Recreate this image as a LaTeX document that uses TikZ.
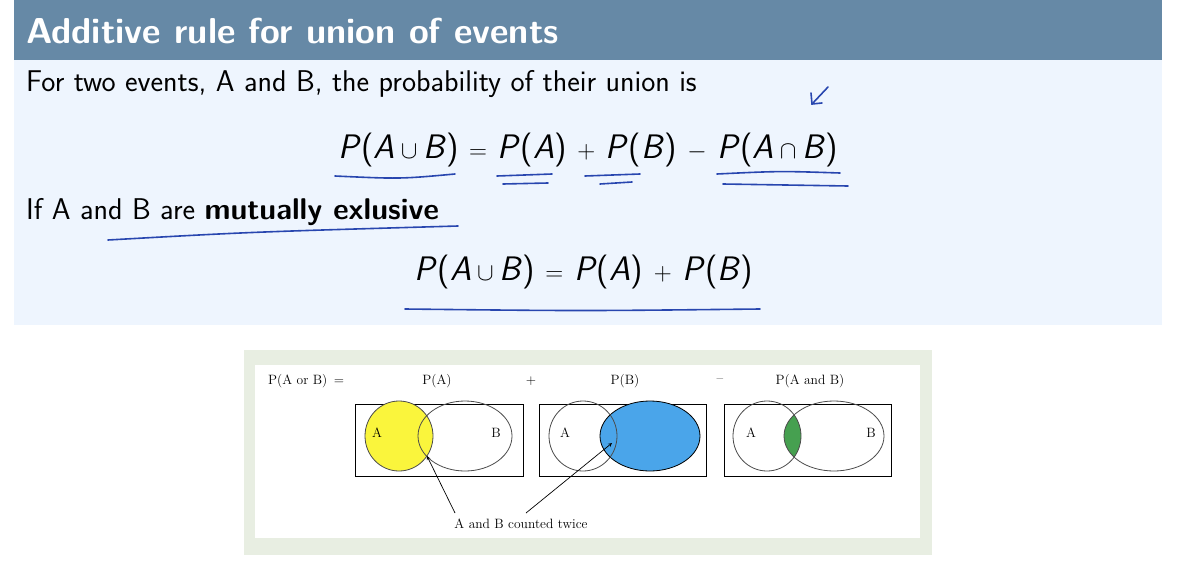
\documentclass[tikz,border=0pt]{standalone}
\usepackage{amssymb}
\newcommand\mv[1]{\textsf{\textit{#1}}}
\begin{document}
\begin{tikzpicture}[x=1pt,y=-1pt,
  txt/.style={font=\sffamily\fontsize{30}{33}\selectfont,anchor=west,inner sep=0},
  frm/.style={font=\sffamily\fontsize{34}{38}\selectfont,inner sep=0},
  ink/.style={draw={rgb,255:red,40;green,70;blue,175},line width=1.6pt,line cap=round},
  sm/.style={font=\rmfamily\fontsize{13.5}{15}\selectfont,inner sep=0},
  box/.style={draw,line width=1pt},
  ell/.style={draw=black!70,line width=0.8pt}]
\useasboundingbox (0,0) rectangle (1192,568);
\fill[white] (0,0) rectangle (1192,568);
\fill[fill={rgb,255:red,238;green,245;blue,254}] (14,60) rectangle (1162,325);
\fill[fill={rgb,255:red,102;green,137;blue,166}] (14,0) rectangle (1162,60);
\node[txt,text=white,font=\sffamily\bfseries\fontsize{36}{38}\selectfont] (title) at (26,31) {Additive rule for union of events};
\node[txt] (l1) at (26,84) {For two events, A and B, the probability of their union is};
\node[frm] (f1) at (588,150) {\mv{P}(\mv{A}\,$\cup$\,\mv{B}) $=$ \mv{P}(\mv{A}) $+$ \mv{P}(\mv{B}) $-$ \mv{P}(\mv{A}\,$\cap$\,\mv{B})};
\node[txt] (l2) at (26,212) {If A and B are \textbf{mutually exlusive}};
\node[frm] (f2) at (584,272) {\mv{P}(\mv{A}\,$\cup$\,\mv{B}) $=$ \mv{P}(\mv{A}) $+$ \mv{P}(\mv{B})};
% hand-drawn marks
\draw[ink] (335,176) .. controls (400,179) .. (455,174);
\draw[ink] (497,176) -- (552,174); \draw[ink] (503,184) -- (548,183);
\draw[ink] (585,176) -- (640,174); \draw[ink] (600,184) -- (632,182);
\draw[ink] (717,174) .. controls (780,171) .. (840,173); \draw[ink] (723,184) -- (848,186);
\draw[ink] (108,240) .. controls (250,232) .. (458,226);
\draw[ink] (405,309) .. controls (580,311) .. (760,309);
\draw[ink] (828,87) -- (812,104); \draw[ink] (811,93) -- (812,104) -- (822,103);
% figure panel
\fill[fill={rgb,255:red,232;green,238;blue,226}] (244,350) rectangle (932,555);
\fill[white] (255,365) rectangle (920,538);
\node[sm,anchor=west] (por) at (268,381) {P(A or B) \,=};
\node[sm] (pa) at (437,381) {P(A)};
\node[sm] (plus) at (531,381) {+};
\node[sm] (pb) at (625,381) {P(B)};
\node[sm] (minus) at (720,381) {--};
\node[sm] (pab) at (810,381) {P(A and B)};
\draw[box] (355,404) rectangle (523,476);
\draw[box] (539,404) rectangle (706,476);
\draw[box] (724,404) rectangle (891,476);
% box1
\fill[fill={rgb,255:red,250;green,245;blue,60},draw=black!70,line width=0.8pt] (399,436) ellipse (34 and 35);
\draw[ell] (465,436) ellipse (47 and 35);
\node[sm] (a1) at (377,433) {A}; \node[sm] (b1) at (496,433) {B};
% box2
\fill[fill={rgb,255:red,74;green,165;blue,234},draw=black,line width=0.8pt] (650,436) ellipse (50 and 35);
\draw[ell] (583,436) ellipse (34 and 35);
\node[sm] (a2) at (565,433) {A};
% box3
\begin{scope}
\clip (767,436) ellipse (34 and 35);
\fill[fill={rgb,255:red,70;green,160;blue,80}] (834,436) ellipse (50 and 35);
\end{scope}
\draw[ell] (767,436) ellipse (34 and 35);
\draw[ell] (834,436) ellipse (50 and 35);
\node[sm] (a3) at (751,433) {A}; \node[sm] (b3) at (871,433) {B};
% arrows
\node[sm] (tw) at (521,524) {A and B counted twice};
\coordinate (t1) at (427,456); \coordinate (t2) at (612,443);
\coordinate (s1) at (455,513); \coordinate (s2) at (526,513);
\draw[-stealth,line width=0.7pt] (s1) -- (t1);
\draw[-stealth,line width=0.7pt] (s2) -- (t2);
\end{tikzpicture}
\end{document}
